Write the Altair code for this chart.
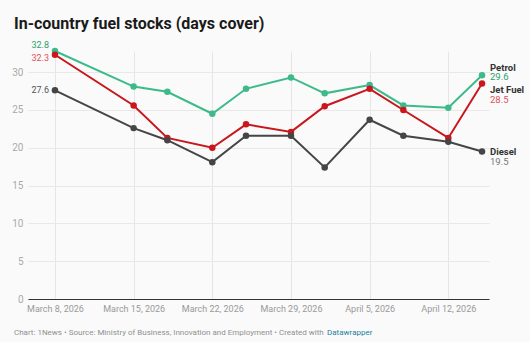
import altair as alt
import pandas as pd

dates = ["2026-03-08", "2026-03-15", "2026-03-18", "2026-03-22", "2026-03-25",
         "2026-03-29", "2026-04-01", "2026-04-05", "2026-04-08", "2026-04-12", "2026-04-15"]
petrol = [32.8, 28.1, 27.4, 24.5, 27.8, 29.3, 27.2, 28.3, 25.6, 25.3, 29.6]
jet_fuel = [32.3, 25.6, 21.3, 20.0, 23.1, 22.1, 25.5, 27.8, 25.0, 21.3, 28.5]
diesel = [27.6, 22.6, 21.0, 18.1, 21.6, 21.6, 17.4, 23.7, 21.6, 20.8, 19.5]
series_names = ["Petrol", "Jet Fuel", "Diesel"]
line_colors = ["#3dba8a", "#c8171d", "#454545"]
value_colors = ["#2e9e70", "#e0505a", "#777777"]
y_ticks = [0, 5, 10, 15, 20, 25, 30]
tick_dates = [(2026, 3, 8), (2026, 3, 15), (2026, 3, 22), (2026, 3, 29), (2026, 4, 5), (2026, 4, 12)]

FONT = "Roboto"
rows = []
for name, vals in zip(series_names, [petrol, jet_fuel, diesel]):
    for d, v in zip(dates, vals):
        rows.append({"date": d + "T00:00:00", "series": name, "value": v})
df = pd.DataFrame(rows)

x_scale = alt.Scale(domain=[alt.DateTime(year=2026, month=3, date=5, hours=14, minutes=24),
                            alt.DateTime(year=2026, month=4, date=15, hours=14, minutes=53)])
y_scale = alt.Scale(domain=[0, 32.8], nice=False, zero=True)
color_scale = alt.Scale(domain=series_names, range=line_colors)

x_enc = alt.X("date:T", scale=x_scale, axis=alt.Axis(
    values=[alt.DateTime(year=y, month=m, date=d) for y, m, d in tick_dates],
    format="%B %-d, %Y", title=None, grid=True, gridColor="#e6e6e6", ticks=False,
    domain=True, domainColor="#333333", domainWidth=1.2, labelColor="#999999",
    labelFont=FONT, labelFontSize=9, labelPadding=5, labelFlush=False))
y_enc = alt.Y("value:Q", scale=y_scale, axis=alt.Axis(
    values=y_ticks, title=None, grid=True, gridColor="#e8e8e8", ticks=False, domain=False,
    labelColor="#aaaaaa", labelFont=FONT, labelFontSize=10, labelPadding=5))

base = alt.Chart(df)
lines = base.mark_line(strokeWidth=2).encode(
    x=x_enc, y=y_enc, color=alt.Color("series:N", scale=color_scale, legend=None))
points = base.mark_circle(size=42, opacity=1).encode(
    x="date:T", y="value:Q", color=alt.Color("series:N", scale=color_scale, legend=None))

layers = [lines, points]

# start labels
start_dy = [-6, 3, 0]
for name, col, dy in zip(series_names, value_colors, start_dy):
    sub = df[(df.series == name) & (df.date == dates[0] + "T00:00:00")]
    layers.append(alt.Chart(sub).mark_text(
        align="right", baseline="middle", dx=-6, dy=dy, font=FONT, fontSize=9,
        color=col if name != "Diesel" else "#555555").encode(
        x="date:T", y="value:Q", text=alt.Text("value:Q", format=".1f")))

# end labels
name_dy = [-7.5, 6.5, 0]
val_dy = [2, 16.5, 10]
for name, col, ndy, vdy in zip(series_names, value_colors, name_dy, val_dy):
    sub = df[(df.series == name) & (df.date == dates[-1] + "T00:00:00")]
    layers.append(alt.Chart(sub).mark_text(
        align="left", baseline="middle", dx=8, dy=ndy, font=FONT, fontSize=9.5,
        fontWeight="bold", color="#333333").encode(
        x="date:T", y="value:Q", text="series:N"))
    layers.append(alt.Chart(sub).mark_text(
        align="left", baseline="middle", dx=8, dy=vdy, font=FONT, fontSize=9.5,
        color=col).encode(
        x="date:T", y="value:Q", text=alt.Text("value:Q", format=".1f")))

# title and footer
title = alt.Chart(pd.DataFrame({"t": ["In-country fuel stocks (days cover)"]})).mark_text(
    align="left", baseline="alphabetic", font=FONT, fontSize=16, fontWeight="bold",
    color="#1a1a1a").encode(x=alt.value(-14), y=alt.value(-22), text="t:N")
footer = alt.Chart(pd.DataFrame({"t": ["Chart: 1News • Source: Ministry of Business, Innovation and Employment • Created with"]})).mark_text(
    align="left", baseline="middle", font=FONT, fontSize=8.0, color="#909090").encode(
    x=alt.value(-14), y=alt.value(282), text="t:N")
footer2 = alt.Chart(pd.DataFrame({"t": ["Datawrapper"]})).mark_text(
    align="left", baseline="middle", font=FONT, fontSize=8.0, color="#1d81a2").encode(
    x=alt.value(299), y=alt.value(282), text="t:N")
layers += [title, footer, footer2]

chart = alt.layer(*layers).properties(
    width=461, height=248,
    autosize=alt.AutoSizeParams(type="none"),
    padding={"left": 28, "top": 51, "right": 41, "bottom": 43},
    background="#fafafa",
).configure_view(stroke=None)

chart.save("out.html", embed_options={"renderer": "svg", "actions": False})
